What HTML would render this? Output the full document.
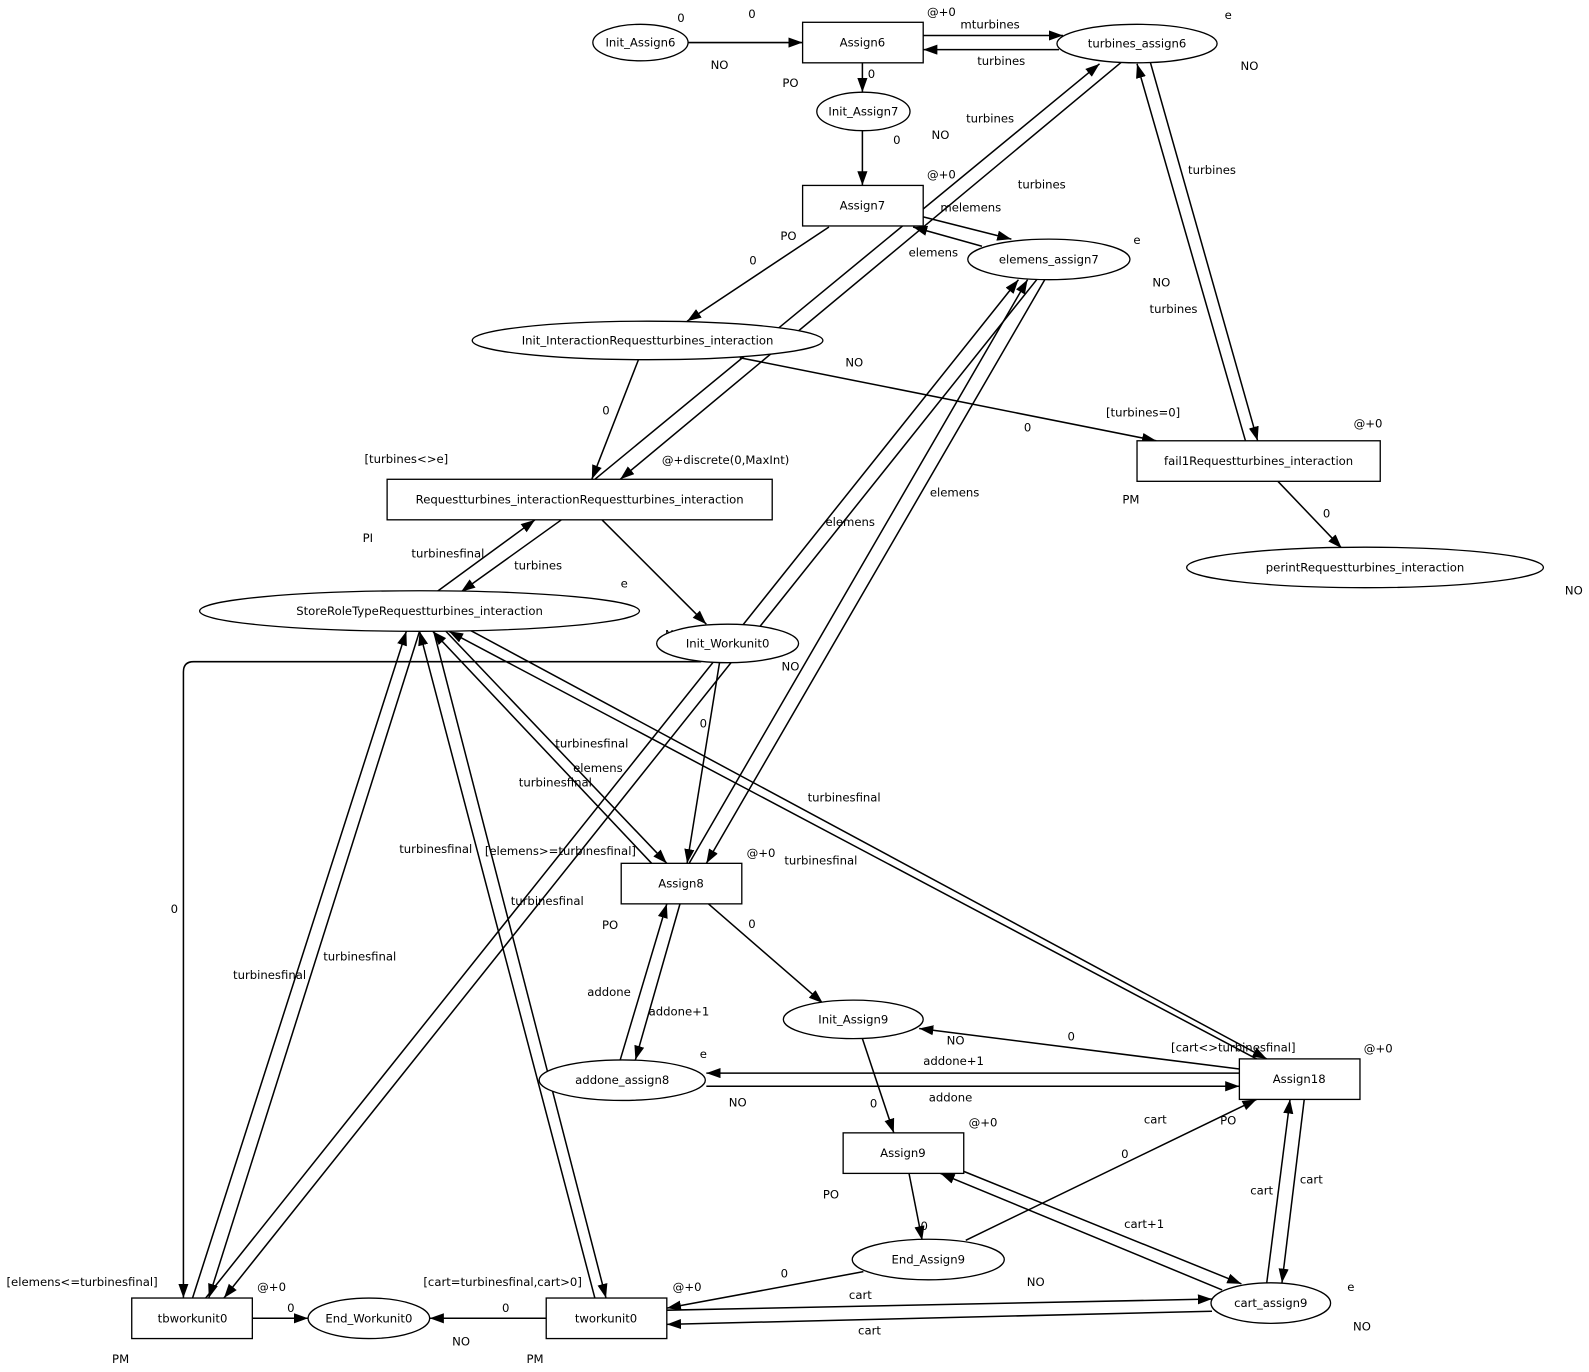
<!DOCTYPE html>
<html>
<head>
<meta charset="utf-8">
<style>
  html,body{margin:0;padding:0;background:#fff;}
  svg{display:block;}
  .l{stroke:#000;stroke-width:1.5;fill:none;}
  .n{stroke:#000;stroke-width:1.3;fill:#fff;}
  text{font-family:"DejaVu Sans","Liberation Sans",sans-serif;font-size:11.5px;fill:#000;text-anchor:middle;dominant-baseline:central;}
</style>
</head>
<body>
<svg width="1589" height="1372" viewBox="0 0 1568 1354" preserveAspectRatio="none" xmlns="http://www.w3.org/2000/svg">
<defs>
<marker id="a" markerWidth="15" markerHeight="11" refX="14" refY="5" orient="auto" markerUnits="userSpaceOnUse">
<path d="M0,0L14,5L0,10z" fill="#000"/>
</marker>
</defs>
<rect width="1568" height="1354" fill="#fff"/>

<text x="665" y="626">NO</text>

<g class="l" marker-end="url(#a)">
<line x1="679" y1="42" x2="792" y2="42"/>
<line x1="911" y1="35" x2="1049" y2="35"/>
<line x1="1045" y1="49" x2="911" y2="49"/>
<line x1="851" y1="62" x2="851" y2="91"/>
<line x1="851" y1="129" x2="851" y2="183"/>
<line x1="911" y1="214" x2="998" y2="236"/>
<line x1="969" y1="243" x2="901" y2="224"/>
<line x1="818" y1="224" x2="678" y2="317"/>
<line x1="587" y1="473" x2="1085" y2="63"/>
<line x1="1107" y1="61" x2="612" y2="473"/>
<line x1="1229" y1="435" x2="1122" y2="63"/>
<line x1="1135" y1="61" x2="1241" y2="435"/>
<line x1="630" y1="355" x2="584" y2="473"/>
<line x1="730" y1="353" x2="1141" y2="435"/>
<line x1="1261" y1="475" x2="1324" y2="541"/>
<line x1="431" y1="584" x2="528" y2="513"/>
<line x1="554" y1="513" x2="455" y2="584"/>
<line x1="594" y1="513" x2="697" y2="616"/>
<path d="M692,653 L191,653 Q181,653 181,663 L181,1281"/>
<line x1="710" y1="654" x2="678" y2="852"/>
<line x1="190" y1="1281" x2="401" y2="623"/>
<line x1="414" y1="623" x2="206" y2="1281"/>
<line x1="203" y1="1281" x2="1005" y2="276"/>
<line x1="1023" y1="276" x2="221" y2="1281"/>
<line x1="587" y1="1281" x2="414" y2="623"/>
<line x1="428" y1="623" x2="598" y2="1281"/>
<line x1="643" y1="852" x2="427" y2="623"/>
<line x1="440" y1="623" x2="658" y2="852"/>
<line x1="1240" y1="1045" x2="443" y2="623"/>
<line x1="464" y1="622" x2="1250" y2="1045"/>
<line x1="680" y1="852" x2="1014" y2="276"/>
<line x1="1031" y1="276" x2="697" y2="852"/>
<line x1="612" y1="1046" x2="658" y2="892"/>
<line x1="671" y1="892" x2="627" y2="1046"/>
<line x1="699" y1="892" x2="812" y2="990"/>
<line x1="851" y1="1025" x2="882" y2="1118"/>
<line x1="1223" y1="1055" x2="907" y2="1015"/>
<line x1="1223" y1="1059" x2="697" y2="1059"/>
<line x1="697" y1="1072" x2="1223" y2="1072"/>
<line x1="953" y1="1224" x2="1240" y2="1085"/>
<line x1="1250" y1="1266" x2="1273" y2="1085"/>
<line x1="1287" y1="1085" x2="1265" y2="1266"/>
<line x1="897" y1="1158" x2="910" y2="1224"/>
<line x1="951" y1="1156" x2="1225" y2="1267"/>
<line x1="1206" y1="1273" x2="928" y2="1158"/>
<line x1="852" y1="1255" x2="658" y2="1291"/>
<line x1="658" y1="1293" x2="1196" y2="1282"/>
<line x1="1196" y1="1294" x2="658" y2="1307"/>
<line x1="539" y1="1301" x2="424" y2="1301"/>
<line x1="249" y1="1301" x2="304" y2="1301"/>
</g>

<g class="n">
<ellipse cx="632" cy="42" rx="47" ry="18"/>
<ellipse cx="1122" cy="43" rx="79" ry="19"/>
<ellipse cx="852" cy="110" rx="46" ry="19"/>
<ellipse cx="1035" cy="256" rx="80" ry="20"/>
<ellipse cx="639" cy="336" rx="173" ry="19"/>
<ellipse cx="1347" cy="560" rx="176" ry="20"/>
<ellipse cx="414" cy="603" rx="217" ry="20"/>
<ellipse cx="718" cy="635" rx="70" ry="19"/>
<ellipse cx="842" cy="1006" rx="69" ry="19"/>
<ellipse cx="614" cy="1066" rx="82" ry="20"/>
<ellipse cx="916" cy="1243" rx="75" ry="20"/>
<ellipse cx="1254" cy="1286" rx="59" ry="20"/>
<ellipse cx="364" cy="1301" rx="60" ry="20"/>
</g>
<g class="n">
<rect x="792" y="22" width="119" height="40"/>
<rect x="792" y="183" width="119" height="40"/>
<rect x="382" y="473" width="380" height="40"/>
<rect x="1122" y="435" width="240" height="40"/>
<rect x="613" y="852" width="119" height="40"/>
<rect x="1223" y="1045" width="119" height="40"/>
<rect x="832" y="1118" width="119" height="40"/>
<rect x="130" y="1281" width="119" height="40"/>
<rect x="539" y="1281" width="119" height="40"/>
</g>

<text x="632" y="42">Init_Assign6</text>
<text x="1122" y="43">turbines_assign6</text>
<text x="852" y="110">Init_Assign7</text>
<text x="1035" y="256">elemens_assign7</text>
<text x="639" y="336">Init_InteractionRequestturbines_interaction</text>
<text x="1347" y="560">perintRequestturbines_interaction</text>
<text x="414" y="603">StoreRoleTypeRequestturbines_interaction</text>
<text x="718" y="635">Init_Workunit0</text>
<text x="842" y="1006">Init_Assign9</text>
<text x="614" y="1066">addone_assign8</text>
<text x="916" y="1243">End_Assign9</text>
<text x="1254" y="1286">cart_assign9</text>
<text x="364" y="1301">End_Workunit0</text>
<text x="851" y="42">Assign6</text>
<text x="851" y="203">Assign7</text>
<text x="572" y="493">Requestturbines_interactionRequestturbines_interaction</text>
<text x="1242" y="455">fail1Requestturbines_interaction</text>
<text x="672" y="872">Assign8</text>
<text x="1282" y="1065">Assign18</text>
<text x="891" y="1138">Assign9</text>
<text x="190" y="1301">tbworkunit0</text>
<text x="598" y="1301">tworkunit0</text>

<text x="672" y="18">0</text>
<text x="742" y="14">0</text>
<text x="710" y="64">NO</text>
<text x="929" y="12">@+0</text>
<text x="977" y="24">mturbines</text>
<text x="988" y="60">turbines</text>
<text x="1212" y="15">e</text>
<text x="1233" y="65">NO</text>
<text x="780" y="82">PO</text>
<text x="860" y="73">0</text>
<text x="977" y="117">turbines</text>
<text x="928" y="133">NO</text>
<text x="885" y="138">0</text>
<text x="929" y="172">@+0</text>
<text x="1028" y="182">turbines</text>
<text x="1196" y="168">turbines</text>
<text x="958" y="205">melemens</text>
<text x="921" y="249">elemens</text>
<text x="1122" y="237">e</text>
<text x="778" y="233">PO</text>
<text x="743" y="257">0</text>
<text x="1146" y="279">NO</text>
<text x="1158" y="305">turbines</text>
<text x="843" y="358">NO</text>
<text x="598" y="405">0</text>
<text x="1128" y="407">[turbines=0]</text>
<text x="1014" y="422">0</text>
<text x="1350" y="418">@+0</text>
<text x="401" y="453">[turbines&lt;&gt;e]</text>
<text x="716" y="454">@+discrete(0,MaxInt)</text>
<text x="1116" y="493">PM</text>
<text x="1309" y="507">0</text>
<text x="942" y="486">elemens</text>
<text x="839" y="515">elemens</text>
<text x="363" y="531">PI</text>
<text x="442" y="546">turbinesfinal</text>
<text x="531" y="558">turbines</text>
<text x="616" y="576">e</text>
<text x="1553" y="583">NO</text>
<text x="780" y="658">NO</text>
<text x="694" y="714">0</text>
<text x="584" y="734">turbinesfinal</text>
<text x="590" y="758">elemens</text>
<text x="548" y="772">turbinesfinal</text>
<text x="833" y="787">turbinesfinal</text>
<text x="430" y="838">turbinesfinal</text>
<text x="553" y="840">[elemens&gt;=turbinesfinal]</text>
<text x="751" y="842">@+0</text>
<text x="810" y="849">turbinesfinal</text>
<text x="540" y="889">turbinesfinal</text>
<text x="172" y="897">0</text>
<text x="602" y="913">PO</text>
<text x="742" y="912">0</text>
<text x="355" y="944">turbinesfinal</text>
<text x="266" y="962">turbinesfinal</text>
<text x="601" y="979">addone</text>
<text x="670" y="998">addone+1</text>
<text x="943" y="1027">NO</text>
<text x="1057" y="1023">0</text>
<text x="1217" y="1034">[cart&lt;&gt;turbinesfinal]</text>
<text x="1360" y="1035">@+0</text>
<text x="694" y="1040">e</text>
<text x="941" y="1047">addone+1</text>
<text x="938" y="1083">addone</text>
<text x="728" y="1088">NO</text>
<text x="862" y="1089">0</text>
<text x="1140" y="1105">cart</text>
<text x="1212" y="1106">PO</text>
<text x="970" y="1108">@+0</text>
<text x="1110" y="1139">0</text>
<text x="1294" y="1164">cart</text>
<text x="1245" y="1175">cart</text>
<text x="820" y="1179">PO</text>
<text x="1129" y="1208">cart+1</text>
<text x="912" y="1210">0</text>
<text x="774" y="1257">0</text>
<text x="81" y="1265">[elemens&lt;=turbinesfinal]</text>
<text x="496" y="1265">[cart=turbinesfinal,cart&gt;0]</text>
<text x="1022" y="1265">NO</text>
<text x="268" y="1270">@+0</text>
<text x="678" y="1270">@+0</text>
<text x="1333" y="1270">e</text>
<text x="849" y="1278">cart</text>
<text x="287" y="1291">0</text>
<text x="499" y="1291">0</text>
<text x="1344" y="1309">NO</text>
<text x="858" y="1313">cart</text>
<text x="455" y="1324">NO</text>
<text x="119" y="1341">PM</text>
<text x="528" y="1341">PM</text>
</svg>
</body>
</html>
